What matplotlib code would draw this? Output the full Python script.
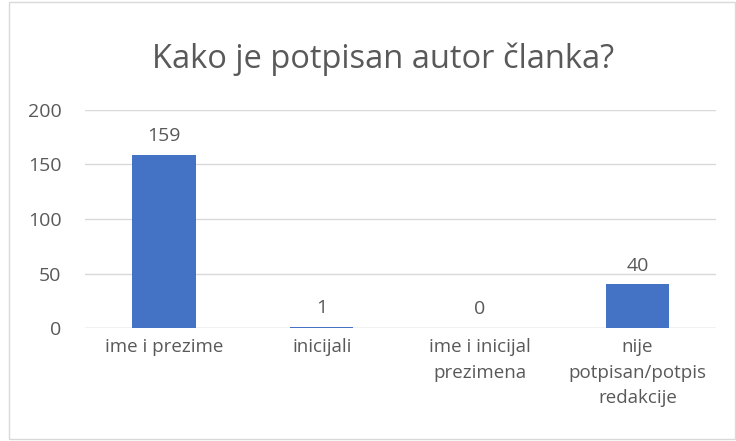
import matplotlib
matplotlib.use("Agg")
import matplotlib.pyplot as plt
from matplotlib.patches import Rectangle

categories = ["ime i prezime", "inicijali", "ime i inicijal\nprezimena", "nije\npotpisan/potpis\nredakcije"]
values = [159, 1, 0, 40]
yticks = [0, 50, 100, 150, 200]
title = "Kako je potpisan autor članka?"

plt.rcParams['font.family'] = ['Open Sans', 'DejaVu Sans']
txt = "#595959"

fig = plt.figure(figsize=(7.36, 4.41), dpi=100)
ax = fig.add_axes([0.1155, 0.256, 0.858, 0.495])
x = range(len(categories))
ax.bar(x, values, width=0.4, color="#4472C4", zorder=3)
for xi, v in zip(x, values):
    ax.annotate(str(v), (xi, v), xytext=(0, 7), textcoords="offset points",
                ha="center", va="bottom", fontsize=14, color=txt)
ax.set_xlim(-0.5, len(categories) - 0.5)
ax.set_ylim(0, 200)
ax.set_yticks(yticks)
ax.set_xticks(list(x))
ax.set_xticklabels(categories, fontsize=13.5, color=txt, linespacing=1.55)
ax.tick_params(axis="y", labelsize=14, labelcolor=txt, length=0, pad=17)
ax.tick_params(axis="x", length=0, pad=7)
ax.grid(axis="y", color="#d9d9d9", linewidth=1, zorder=0)
for s in ax.spines.values():
    s.set_visible(False)
ax.axhline(0, color="#d9d9d9", linewidth=1, zorder=2)
fig.text(0.52, 0.865, title, ha="center", va="center", fontsize=23.5, color=txt)
fig.patches.append(Rectangle((0.012, 0.005), 0.986, 0.99, transform=fig.transFigure,
                             fill=False, edgecolor="#d9d9d9", linewidth=1))
fig.savefig("out.png", dpi=100)
